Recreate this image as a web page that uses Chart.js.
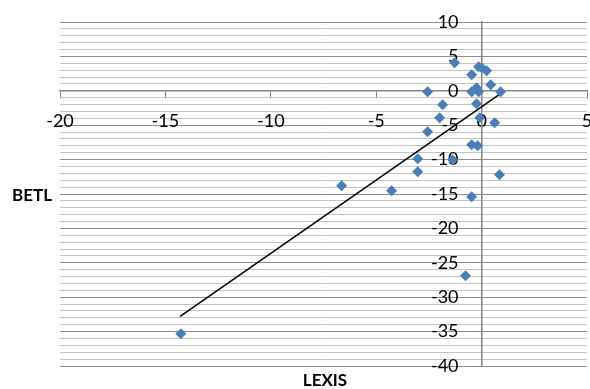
<!DOCTYPE html>
<html>
<head>
<meta charset="utf-8">
<title>LEXIS / BETL</title>
<script src="https://cdn.jsdelivr.net/npm/chart.js@4.4.1/dist/chart.umd.min.js"></script>
<style>
  body { margin: 0; background: #fff; }
  #wrap { width: 590px; height: 389px; }
</style>
</head>
<body>
<div id="wrap"><canvas id="chart" width="590" height="389"></canvas></div>
<script>
// Datos
const lexis = [-1.28, -0.47, -0.14, 0, 0.24, 0.43, -2.56, -0.47, -0.24, -0.14, 0.9, -1.85, -0.24, -1.99,
  -0.09, 0.62, -2.56, -0.47, -0.19, -3.03, -1.37, -3.03, 0.85, -4.27, -6.64, -0.47, -0.76, -14.27];
const betl = [4.07, 2.33, 3.49, 3.34, 2.91, 0.87, -0.15, -0.15, 0.44, -0.15, -0.15, -2.03, -1.89, -3.92,
  -3.92, -4.65, -5.96, -7.85, -7.99, -9.88, -10.03, -11.77, -12.21, -14.53, -13.81, -15.41, -26.89, -35.3];
// Linea de tendencia (extremos)
const trendX = [-14.3, 0.95];
const trendY = [-32.8, -0.3];

const fontFamily = 'Lato, "Liberation Sans", sans-serif';
const axisGray = '#868686';
const majorGrid = '#8f8f8f';
const minorGrid = '#c4c4c4';

const points = lexis.map((x, i) => ({ x: x, y: betl[i] }));
const trend = trendX.map((x, i) => ({ x: x, y: trendY[i] }));

// Titulos de los ejes
const axisTitles = {
  id: 'axisTitles',
  afterDraw(chart) {
    const c = chart.ctx;
    c.save();
    c.fillStyle = '#000';
    c.font = 'bold 17px ' + fontFamily;
    c.textBaseline = 'middle';
    c.textAlign = 'left';
    c.fillText('BETL', 12, 196);
    c.textAlign = 'center';
    c.fillText('LEXIS', 325, 381);
    c.restore();
  }
};

new Chart(document.getElementById('chart'), {
  type: 'scatter',
  data: {
    datasets: [{
      label: 'BETL',
      data: points,
      pointStyle: 'rectRot',
      pointRadius: 5.5,
      pointBorderWidth: 0,
      backgroundColor: '#4a7ebb',
      borderColor: '#4a7ebb'
    }, {
      label: 'Tendencia',
      data: trend,
      showLine: true,
      pointRadius: 0,
      borderColor: '#000',
      borderWidth: 1.5
    }]
  },
  options: {
    responsive: false,
    animation: false,
    layout: { autoPadding: false, padding: { left: 60, right: 3, top: 22, bottom: 23 } },
    plugins: { legend: { display: false }, tooltip: { enabled: false } },
    scales: {
      x: {
        type: 'linear',
        min: -20,
        max: 5,
        position: { y: 0 },
        // lineHeight alto para bajar las etiquetas sin reducir el area del grafico
        ticks: { stepSize: 5, color: '#000', padding: -3, font: { family: fontFamily, size: 18, lineHeight: '52px' } },
        grid: { drawOnChartArea: false, tickLength: 7, tickColor: axisGray },
        border: { color: axisGray, width: 1.5 }
      },
      y: {
        type: 'linear',
        min: -40,
        max: 10,
        position: { x: 0 },
        ticks: {
          stepSize: 1,
          autoSkip: false,
          maxTicksLimit: 100,
          color: '#000',
          font: { family: fontFamily, size: 18 },
          // espacios al final para separar la etiqueta del eje
          callback: v => (v % 5 === 0 ? v + '     ' : '')
        },
        grid: {
          color: ctx => (ctx.tick && ctx.tick.value % 5 === 0 ? majorGrid : minorGrid),
          tickLength: 7,
          tickColor: ctx => (ctx.tick && ctx.tick.value % 5 === 0 ? axisGray : 'rgba(0,0,0,0)')
        },
        border: { color: axisGray, width: 1.5 }
      }
    }
  },
  plugins: [axisTitles]
});
</script>
</body>
</html>
